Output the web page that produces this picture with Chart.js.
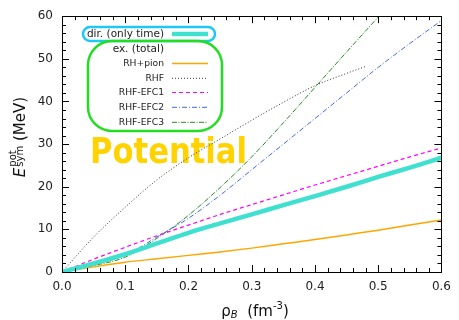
<!DOCTYPE html>
<html>
<head>
<meta charset="utf-8">
<script src="https://cdn.jsdelivr.net/npm/chart.js@4"></script>
<style>
  html, body { margin: 0; padding: 0; background: #fff; }
  #wrap { width: 459px; height: 320px; }
</style>
</head>
<body>
<div id="wrap"><canvas id="myChart"></canvas></div>
<script>
// Densities (fm^-3) and symmetry-energy values (MeV)
const rho = [0, 0.05, 0.1, 0.15, 0.2, 0.25, 0.3, 0.35, 0.4, 0.45, 0.5, 0.55, 0.6];
const dirTime = [0, 2.0, 4.2, 6.7, 9.2, 11.4, 13.5, 15.7, 17.8, 20.0, 22.3, 24.5, 26.8];
const rhPion = [0, 1.2, 2.3, 3.1, 3.9, 4.7, 5.6, 6.6, 7.6, 8.7, 9.8, 11.0, 12.2];
const efc1 = [0, 3.0, 5.8, 8.5, 11.0, 13.5, 15.8, 18.1, 20.4, 22.6, 24.8, 27.0, 29.1];
const efc2 = [0, 1.8, 3.9, 8.2, 12.6, 18.0, 24.0, 30.0, 36.0, 42.0, 48.0, 53.6, 59.0];
const rhoRhf = [0, 0.05, 0.1, 0.15, 0.2, 0.25, 0.3, 0.35, 0.4, 0.45, 0.48];
const rhf = [0, 8.2, 15.2, 21.6, 26.8, 31.2, 35.6, 39.8, 43.7, 46.6, 48.2];
const rhoEfc3 = [0, 0.05, 0.1, 0.15, 0.2, 0.25, 0.3, 0.35, 0.4, 0.45, 0.5, 0.52];
const efc3 = [0, 1.5, 3.5, 7.9, 13.3, 19.8, 27.0, 35.0, 43.3, 51.6, 59.8, 63.0];

const xTicks = [0, 0.1, 0.2, 0.3, 0.4, 0.5, 0.6];
const yTicks = [0, 10, 20, 30, 40, 50, 60];

const pts = (xs, ys) => xs.map((x, i) => ({ x: x, y: ys[i] }));

function line(label, xs, ys, color, width, dash) {
    return {
        label: label,
        data: pts(xs, ys),
        borderColor: color,
        borderWidth: width,
        borderDash: dash,
        pointRadius: 0,
        fill: false,
        cubicInterpolationMode: 'monotone'
    };
}

const datasets = [
    line('dir. (only time)', rho, dirTime, '#40E0D0', 4.5, []),
    line('RH+pion', rho, rhPion, '#FFA500', 1.5, []),
    line('RHF', rhoRhf, rhf, '#333333', 1, [1, 2]),
    line('RHF-EFC1', rho, efc1, '#FF00FF', 1.2, [4, 3]),
    line('RHF-EFC2', rho, efc2, '#4169E1', 1, [5, 2, 1, 2]),
    line('RHF-EFC3', rhoEfc3, efc3, '#228B22', 1, [5, 1.5, 1, 1.5])
];

// frame and inward ticks on all four sides
const framePlugin = {
    id: 'frame',
    afterDatasetsDraw(chart) {
        const ctx = chart.ctx, a = chart.chartArea;
        const xs = chart.scales.x, ys = chart.scales.y;
        ctx.save();
        ctx.strokeStyle = '#000';
        ctx.lineWidth = 1;
        ctx.beginPath();
        for (let i = 0; i <= 30; i++) {
            const px = Math.round(xs.getPixelForValue(i * 0.02)) + 0.5;
            const len = i % 5 === 0 ? 7 : 4;
            ctx.moveTo(px, a.bottom); ctx.lineTo(px, a.bottom - len);
            ctx.moveTo(px, a.top); ctx.lineTo(px, a.top + len);
        }
        for (let i = 0; i <= 30; i++) {
            const py = Math.round(ys.getPixelForValue(i * 2)) + 0.5;
            const len = i % 5 === 0 ? 7 : 4;
            ctx.moveTo(a.left, py); ctx.lineTo(a.left + len, py);
            ctx.moveTo(a.right, py); ctx.lineTo(a.right - len, py);
        }
        ctx.stroke();
        ctx.strokeRect(Math.round(a.left) + 0.5, Math.round(a.top) + 0.5,
            Math.round(a.right - a.left), Math.round(a.bottom - a.top));
        ctx.restore();
    }
};

// big "Potential" label behind the curves
const stampPlugin = {
    id: 'stamp',
    beforeDatasetsDraw(chart) {
        const ctx = chart.ctx;
        ctx.save();
        ctx.fillStyle = '#FFD200';
        ctx.font = 'bold 36px "DejaVu Sans"';
        ctx.textAlign = 'left';
        ctx.textBaseline = 'alphabetic';
        ctx.fillText('Potential', 90, 163, 157);
        ctx.restore();
    }
};

function roundBox(ctx, x, y, w, h, r, color) {
    ctx.beginPath();
    ctx.roundRect(x, y, w, h, r);
    ctx.strokeStyle = color;
    ctx.lineWidth = 2.5;
    ctx.stroke();
}

const legendPlugin = {
    id: 'customLegend',
    afterDatasetsDraw(chart) {
        const ctx = chart.ctx;
        const ds = chart.data.datasets;
        ctx.save();
        roundBox(ctx, 83, 27, 132, 14, 7, '#1EC8F5');
        roundBox(ctx, 88, 41, 134, 90, 24, '#22DD22');
        ctx.fillStyle = '#222';
        ctx.textAlign = 'right';
        ctx.textBaseline = 'middle';
        ctx.font = '10.5px "DejaVu Sans"';
        ctx.fillText(ds[0].label, 164, 34);
        ctx.fillText('ex. (total)', 164, 49.5);
        const rows = [63.5, 78.3, 92.5, 107.3, 122.3];
        ctx.font = '9.2px "DejaVu Sans"';
        for (let i = 1; i < ds.length; i++) {
            ctx.fillText(ds[i].label, 164, rows[i - 1]);
        }
        const sample = (d, y) => {
            ctx.beginPath();
            ctx.strokeStyle = d.borderColor;
            ctx.lineWidth = d.borderWidth;
            ctx.setLineDash(d.borderDash);
            ctx.moveTo(172, y); ctx.lineTo(208, y);
            ctx.stroke();
        };
        sample(ds[0], 34);
        for (let i = 1; i < ds.length; i++) sample(ds[i], rows[i - 1]);
        ctx.restore();
    }
};

// axis titles with sub- and superscripts
const titlesPlugin = {
    id: 'titles',
    afterDraw(chart) {
        const ctx = chart.ctx;
        const big = '15px "DejaVu Sans"', bigI = 'italic 15px "DejaVu Sans"';
        const small = '10px "DejaVu Sans"', smallI = 'italic 10px "DejaVu Sans"';
        ctx.save();
        ctx.fillStyle = '#111';
        ctx.textBaseline = 'alphabetic';
        ctx.textAlign = 'left';

        // y title
        ctx.translate(25, 137);
        ctx.rotate(-Math.PI / 2);
        ctx.font = bigI; const wE = ctx.measureText('E').width + 1;
        ctx.font = small; const wS = Math.max(ctx.measureText('sym').width, ctx.measureText('pot').width);
        ctx.font = big; const wM = ctx.measureText(' (MeV)').width;
        let u = -(wE + wS + wM) / 2;
        ctx.font = bigI; ctx.fillText('E', u, 0); u += wE;
        ctx.font = small; ctx.fillText('sym', u, -2); ctx.fillText('pot', u, -9); u += wS;
        ctx.font = big; ctx.fillText(' (MeV)', u, 0);
        ctx.setTransform(1, 0, 0, 1, 0, 0);

        // x title
        ctx.font = big; const wR = ctx.measureText('\u03C1').width;
        ctx.font = smallI; const wB = ctx.measureText('B').width;
        ctx.font = big; const wF = ctx.measureText('  (fm').width;
        ctx.font = small; const w3 = ctx.measureText('-3').width;
        ctx.font = big; const wP = ctx.measureText(')').width;
        let x = 255 - (wR + wB + wF + w3 + wP) / 2;
        const by = 316;
        ctx.font = big; ctx.fillText('\u03C1', x, by); x += wR;
        ctx.font = smallI; ctx.fillText('B', x, by + 2); x += wB;
        ctx.font = big; ctx.fillText('  (fm', x, by); x += wF;
        ctx.font = small; ctx.fillText('-3', x, by - 7); x += w3;
        ctx.font = big; ctx.fillText(')', x, by);
        ctx.restore();
    }
};

const chartConfig = {
    type: 'line',
    data: { datasets: datasets },
    options: {
        responsive: true,
        maintainAspectRatio: false,
        animation: false,
        layout: { padding: { top: 10, right: 11, left: 0, bottom: 0 } },
        plugins: {
            legend: { display: false },
            tooltip: { enabled: false }
        },
        scales: {
            x: {
                type: 'linear',
                min: 0,
                max: 0.6,
                afterFit: s => { s.height = 48; },
                afterBuildTicks: s => { s.ticks = xTicks.map(v => ({ value: v })); },
                ticks: {
                    padding: 8,
                    color: '#222',
                    font: { family: 'DejaVu Sans', size: 12 },
                    callback: v => v.toFixed(1)
                },
                grid: { display: false, drawTicks: false },
                border: { display: false }
            },
            y: {
                min: 0,
                max: 60,
                afterFit: s => { s.width = 62; },
                afterBuildTicks: s => { s.ticks = yTicks.map(v => ({ value: v })); },
                ticks: {
                    padding: 9,
                    color: '#222',
                    font: { family: 'DejaVu Sans', size: 12 },
                    callback: v => String(v)
                },
                grid: { display: false, drawTicks: false },
                border: { display: false }
            }
        }
    },
    plugins: [stampPlugin, framePlugin, legendPlugin, titlesPlugin]
};

const ctx = document.getElementById('myChart').getContext('2d');
const myChart = new Chart(ctx, chartConfig);
</script>
</body>
</html>
